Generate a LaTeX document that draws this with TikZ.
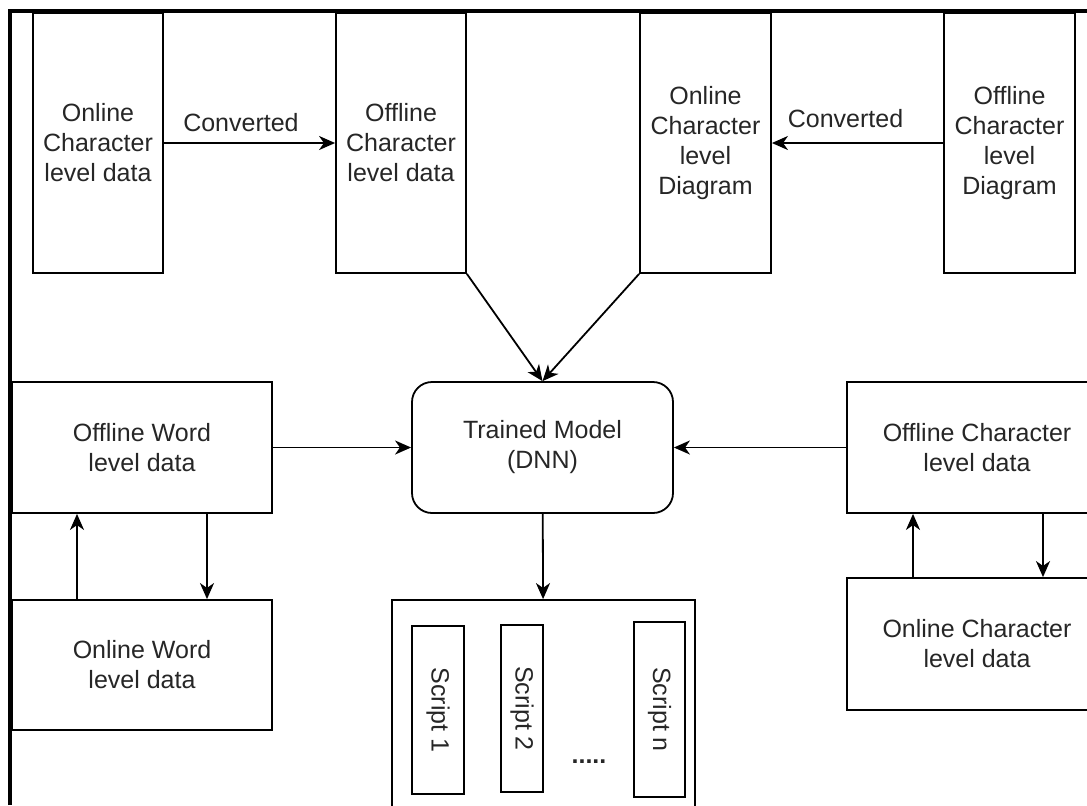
\documentclass[tikz,border=0pt]{standalone}
\usepackage{fontspec}
\setmainfont{Liberation Sans}
\usepackage{tikz}
\usetikzlibrary{arrows.meta}

\begin{document}
\begin{tikzpicture}[x=0.5pt,y=-0.5pt]

   \tikzstyle{every node}+=[inner sep=0pt, text=black!85, font=\fontsize{12.5}{15}\selectfont]
   \tikzstyle{tall}=[draw, line width=0.9pt, minimum width=65pt, minimum height=130pt, align=center]
   \tikzstyle{block}=[draw, line width=0.9pt, minimum width=130pt, minimum height=65.5pt, align=center]
   \tikzstyle{scriptbox}=[draw, line width=0.9pt, rotate=-90]
   \tikzstyle{arr}=[line width=0.9pt, -{Stealth[length=8pt,width=7pt,inset=2.4pt]}]

   \useasboundingbox (0,0) rectangle (1087,805);

   \node[tall] (onchar) at (98,143) {Online\\Character\\level data};
   \node[tall] (offchar) at (401,143) {Offline\\Character\\level data};
   \node[tall, minimum width=65.5pt] (ondiag) at (705.5,143) {Online\\Character\\level\\Diagram};
   \node[tall, minimum width=65.5pt] (offdiag) at (1009.5,143) {Offline\\Character\\level\\Diagram};

   \node[block, minimum width=130.5pt, rounded corners=10pt] (model) at (542.5,447.5) {Trained Model\\(DNN)};
   \node[block] (offword) at (142,447.5) {Offline Word\\level data};
   \node[block, minimum height=65pt] (onword) at (142,665) {Online Word\\level data};
   \node[block] (offcharb) at (977,447.5) {Offline Character\\level data};
   \node[block, minimum height=66pt] (oncharb) at (977,644) {Online Character\\level data};

   \node[draw, line width=0.9pt, minimum width=151.5pt, minimum height=115pt] (scripts) at (543.5,715) {};
   \node[scriptbox, minimum width=84pt, minimum height=26pt] (s1) at (438,710) {Script 1};
   \node[scriptbox, minimum width=83.5pt, minimum height=21pt] (s2) at (522,708.5) {Script 2};
   \node[scriptbox, minimum width=87.5pt, minimum height=25.5pt] (sn) at (659.5,709.5) {Script n};
   \node (dots) at (589,762) {\textbf{.....}};

   \draw[arr] (onchar) -- (offchar) node[pos=0.45, above=5pt] {Converted};
   \draw[arr] (offdiag) -- (ondiag) node[pos=0.57, above=7pt] {Converted};
   \draw[arr] (offchar.south east) -- (model.north);
   \draw[arr] (ondiag.south west) -- (model.north);
   \draw[arr] (offword) -- (model);
   \draw[arr] (offcharb) -- (model);
   \draw[arr] (model) -- (scripts);
   \draw[arr] (onword.north -| 77,0) -- (offword.south -| 77,0);
   \draw[arr] (offword.south -| 207,0) -- (onword.north -| 207,0);
   \draw[arr] (oncharb.north -| 913,0) -- (offcharb.south -| 913,0);
   \draw[arr] (offcharb.south -| 1043,0) -- (oncharb.north -| 1043,0);

   \draw[line width=1.6pt] (10,805) -- (10,11) -- (1087,11);

\end{tikzpicture}
\end{document}
